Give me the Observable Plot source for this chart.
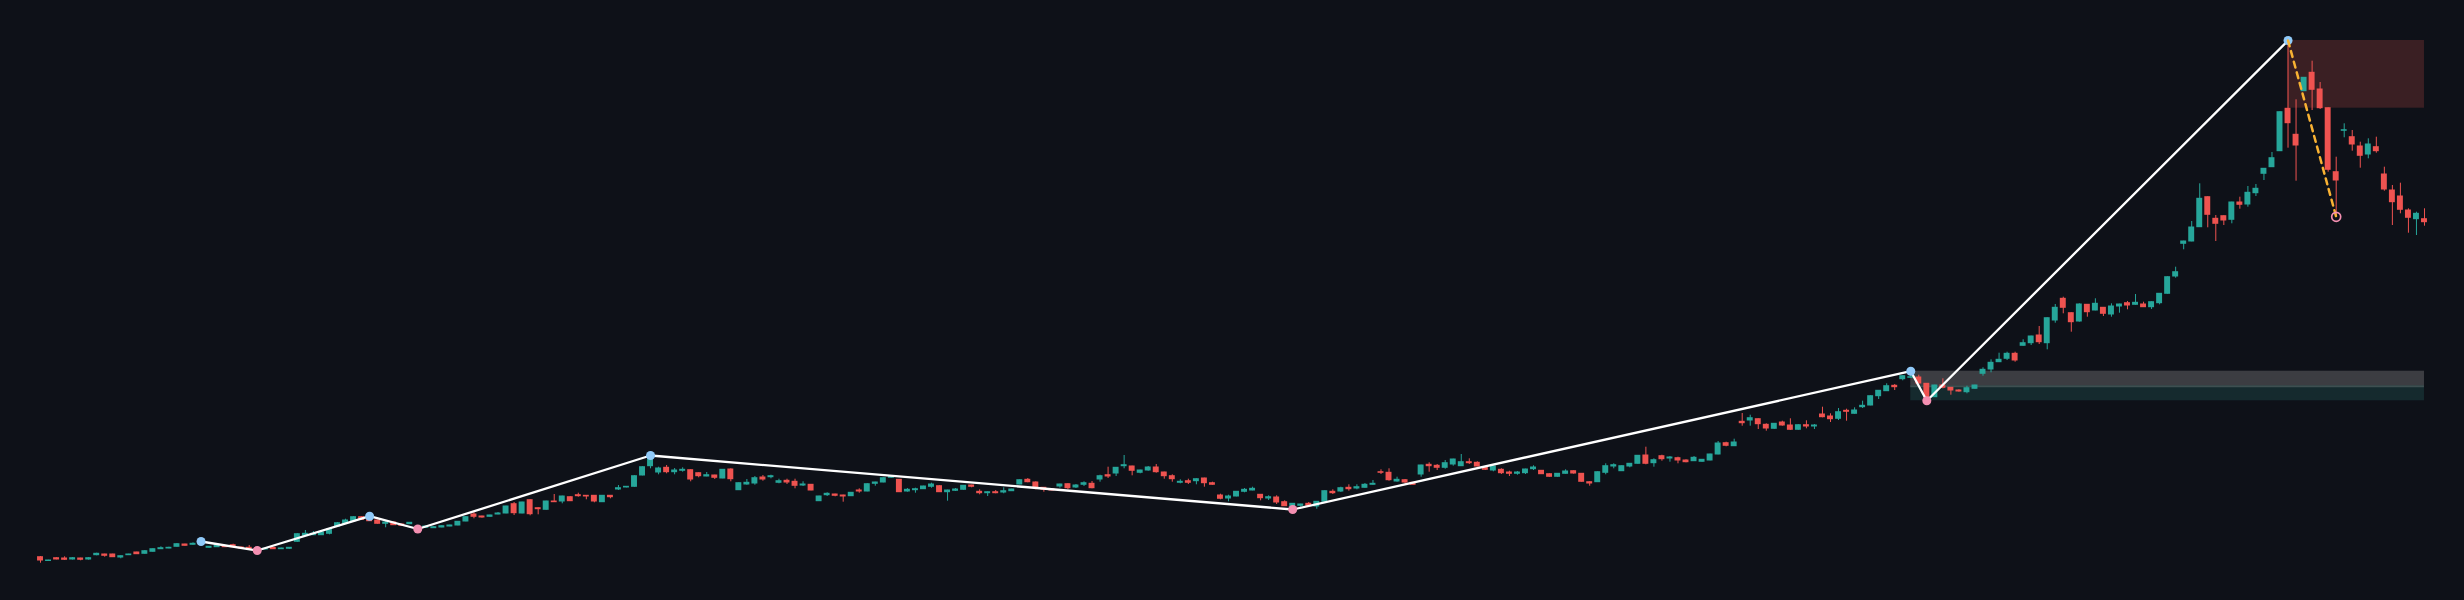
<!DOCTYPE html>
<html><head><meta charset="utf-8">
<script src="https://cdn.jsdelivr.net/npm/d3@7"></script>
<script src="https://cdn.jsdelivr.net/npm/@observablehq/plot@0.6"></script>
<style>html,body{margin:0;padding:0;background:#0e1118;overflow:hidden}#chart{width:2464px;height:600px}</style>
</head><body><div id="chart"></div>
<script>
// OHLC prices, one entry per candle (oldest first)
const open = [
43.3,39.5,42.3,42,41,42,41,45.3,46,46,43,45.3,48,46.7,48.7,51.3,52,53.7,56,55.7,
56.3,52.7,53.3,54.3,55.3,53,52.7,51.2,51,52.7,51.3,51.7,58.7,64.7,65.3,65.3,66.7,74,76.7,79.3,
83.3,82.3,80,76.7,78,76,76.3,73.3,72.7,72.3,73,74,75,79,86,84,83.7,86,87,96.3,
87,100.3,92.3,90.7,99,99,103.3,105.3,104.7,104.7,98.3,104.7,111,113,113.7,125,134.3,128,132.7,128.3,
129.7,130.3,127.3,124,125,122,131,110.3,116,117,123,123.3,117.7,119.7,118.7,115,115.7,99.3,105.3,106,
105,104.3,110,109,116.7,118,122.7,120.7,109,110.3,111.3,113.7,114.3,108.3,109.7,110.7,115,108.7,107.3,108.3,
108,109.3,116,120.7,118,112.7,111.3,114,116.3,113,115.7,116.7,121,125.3,127,134.3,134,127.7,130,133,
128,124.3,117.7,119.3,119.3,122,117.3,105,102,104,108.7,110,105.7,102,103,98.3,94,94.7,96.7,94,
98.7,108.7,109,112.7,112,112.7,115.7,128.3,127.7,119,120.3,117.7,126,135.7,134.7,132.7,136,134.3,138.3,137.7,
133.3,130,130.7,128,126.7,127.3,131.3,129.7,126.3,123.7,126.7,129.3,126.7,118.3,118.3,127.7,134,129.3,134,136.7,
145,137.3,144.3,142,142.3,140,139.3,138.7,140,146,157.3,154.3,178.7,180,181.3,175.7,171.7,178,175,170.7,
175.3,174,186,184,181.7,189.7,186.7,193.3,195,204.3,209.3,214.7,221.3,222.7,223,216.7,203.3,215,212.7,210,
208.3,211.7,226.7,231,238.3,241.7,246.7,254.7,257.3,265,257.3,280,301.7,287.3,279,295.7,290,292.7,286,294,
297.3,295.7,296,293.3,297.3,306.7,324,356.7,359,373.3,403.3,381.7,384.3,380.7,398,396,407.3,426.7,433.3,449.3,
491.7,465.7,509.3,527.7,511,492.3,428.3,469.7,463.3,454,446,453.3,426,410,404,390,381.3,381.3];
const high = [
44,40.2,42.7,43.7,43,42.3,43,47.3,46.3,46.3,44.7,46.3,48.3,50,51.7,53.7,53.3,57,56.3,57.7,
59,54,55.3,54.7,56.3,53.3,55,51.7,52,53,52.3,53,66.7,70,69,68.3,71.7,78,81.3,83.7,
83.7,84.3,80.3,79.3,78.3,76.3,78,73.7,74.3,73.7,74.7,75.3,79,83.7,88.7,84.3,85.3,88,94.3,98,
98.3,100.7,92.7,99.3,106,104.3,103.7,107.3,105,105,105,105,115,114,124.7,133.7,145,133.3,135,132,
132.7,130.7,127.7,128,125.3,131,131.7,117.7,121,124,125,125.3,121.3,121.3,121.3,118.7,116,104.3,107.7,106.3,
105.3,108,111.7,116.7,118.3,122.7,124.3,121,112,112.3,114.3,117.3,114.7,110.3,112,115,115.3,110.7,108.7,110,
112.7,111.3,120.7,122,118.7,113,111.7,116.3,116.7,116,118.7,119,125.3,133.3,133,145,134.3,130.3,134,136,
128.3,125.7,120.7,121.3,121.7,122.3,118.3,106.3,105.3,109,112,113.3,106,104.7,104.7,99.7,97,96.3,98,99,
109.7,110.7,113.3,115.7,115.7,117,120,130.7,131.7,123.3,121,118,135.3,137.7,136,140,141.3,146,141.7,138.7,
133.7,134.3,131.7,129.3,129,131.3,134.7,130,126.7,127,130.7,129.7,127,118.7,128.7,136.7,136.7,134.7,137,145,
153.3,141.7,145.3,144,143.3,140.7,144,141,146.3,159,158.3,161.3,187,185.3,181.7,176.7,177,179.3,181.7,175.7,
179.7,176,193.3,186.7,192,191.3,192.7,199.3,204.7,210,216.7,216,224.7,229.3,225.3,217,215.3,221.7,213,210.7,
214.3,215.3,232.7,240.7,247.3,248.3,248.3,260.7,264.3,274,282.7,296,303.3,287.7,296.7,296,301.7,293,296.7,296.3,
299,306,298.3,298.7,307,323.7,333.3,359.3,379,416.7,403.7,385,384.7,398.3,403.3,414,416,432,448,488.7,
560,500.7,523,539.3,518,492.7,443.3,476.7,470,458.3,461.7,463.3,433.3,415,417.3,391.7,388.3,391.7];
const low = [
37.3,39.3,40.7,40,40.5,39.7,40.3,44.7,43.3,43,41.7,45,46,46.3,48.3,51,51.7,53.3,54.3,55.3,
56,52.3,53,53,53,51.7,51,50,50.7,51,51,51.3,58.3,64,65,65,65.7,73.7,76.3,79,
80.3,79,76.3,72.7,75,74.3,76,71.5,72.3,72,72.7,73.7,74.7,78.7,81.7,82.3,83.3,85.7,86.7,85,
86.7,84.7,85.7,90.3,98,96.7,99,103.3,100.7,97.7,98,101.7,110,112.7,113.3,124.7,131.7,125.7,126.7,125.7,
128.3,118.7,122.7,123.7,121,121.7,118.7,110,115.3,115.3,119.3,121.7,116.7,116,111.7,114,109.7,99,104,103.7,
98.3,104,107.3,108.7,114.3,117.7,122.3,108,108.3,107.3,111,112.3,108,99.3,109,110.3,112.7,105.7,104,106.7,
106.7,109,115.7,117.7,110.7,108.3,109.7,112.3,110.7,112,114,111.7,118.3,122,124,131.7,124.7,126.7,129.3,127.3,
121.3,118.3,116.7,116,115.7,113.3,115.3,100.7,98.7,103.7,107.7,109.7,99.7,100,96,94,91,93.3,94.3,91.3,
98.3,106,108,109.3,110.7,112.3,115.3,126,119.3,118.3,116.7,115.3,123.3,128.3,130,131.3,134.3,134,136,133.7,
130,128.7,126,124,125.3,126,130,126,123.3,123.3,126.3,126.3,118.3,114.3,118,125.7,131.7,129,132.7,136.3,
135.7,133.3,139.3,138.3,136.7,137.7,139,138.3,139.7,145.7,153.7,154,174.3,174.3,171,169.3,171.3,174.3,170,170.3,
171.7,171,182.7,178,180,179.3,186.3,192,194.7,201,209,210,219.7,222.3,216.7,199.7,203,211.7,205.3,208.3,
206.7,211.3,224.3,227.7,238,240,238.3,254.3,255,256,250.7,277.3,286.7,268.3,278.3,283.3,289.7,284,283.3,287.3,
290.7,295.3,293,291,295.7,306.3,322.3,350.7,358.7,373,372.7,359,375,376.7,391.3,393.3,404,420,433,449,
452.3,419.3,509,490,491,428.3,383.7,462.7,449.3,432.3,441.7,447.3,409.3,375,386.7,367.3,365,374.3];
const close = [
40,40,41,40.7,42.3,40.7,42.3,46.7,44.7,43.3,44.3,46,46.3,49.3,51.3,52.3,52.7,56.3,54.7,56.7,
58.3,53.7,54.7,53.3,53.3,52,51.3,50.7,51.7,51.3,52,52.7,66.3,66.7,66.7,68,71.3,77.3,80,83.3,
80.7,79.3,76.7,78,75.3,74.7,77.7,72,74,73.3,74.3,75,78.7,83.3,83.7,83,85,87,94,87.3,
98,86.3,91.3,99,98.3,104,99.3,104.3,104,99,104.7,103.3,112.3,113.7,124.3,133.3,143.3,132,128.3,130,
130.7,121,124.3,125.3,122.7,130.7,121.3,117.3,117.7,122.3,121,124.3,119.3,118,114.7,116,110,104,106.7,104.7,
104,107.7,109,116.3,118,122.3,124,108.3,110.7,111.3,114,116,108.3,110,111,114.7,113.7,107.3,108.3,107.3,
109.3,111,120.3,118.3,113.3,110.7,110,116,112.3,115,117.3,112.3,124.3,124,132.7,135.3,129.7,130,133,128.3,
124.3,121.3,118.7,117.7,121.3,117.3,115.7,101.7,104,108.7,110.7,111.7,102.3,103.3,98,94.3,96.7,96,94.7,98.7,
109.3,107.3,112.3,111.3,113.3,115.7,116.7,127.7,120.3,120.7,118,115.7,135,134.3,132.7,137.3,141,138.3,137.3,134,
130.7,134,127.3,126.7,128,131,133,126.3,123.7,126.7,129,127,118.7,117,128.3,134.3,135.3,134.3,136.7,144.7,
136.7,140.3,141.3,143,140,138.3,142.7,140.7,146,157,154.7,158,177.3,182.3,176.3,172,176.7,175,170.7,175.3,
174,175,183.3,181.3,188.3,188.7,190,194.7,204.3,209.7,214.3,213.3,224.3,223.3,217,203.3,215,212.7,210,209,
212.3,215,230.7,237.7,240.7,246.7,240,257.3,264,258.3,282.3,292.7,292.7,278.3,296,288.3,296.7,286.7,294,296,
295,297.7,293.3,298.3,306.7,323.3,328.3,359,373,401.7,385.7,376.7,380,398,395.7,407.7,411.7,431.7,442.3,488.3,
477.3,455,522.7,510.7,492.3,430.7,420,470.3,456,444.7,456,449.3,411,398.3,390.7,382.7,386.7,378.3];

// Zigzag swing pivots
const pivotIndex = [20, 27, 41, 47, 76, 156, 233, 235, 280];
const pivotPrice = [59, 50, 84.3, 71.5, 145, 91, 229.3, 199.7, 560];
const pivotKind  = ["high","low","high","low","high","low","high","low","high"];

// Retracement from last swing high
const retraceIndex = [280, 286];
const retracePrice = [560, 383.7];

// Zones (start index, end index, top price, bottom price)
const zoneStart  = [233, 233, 280];
const zoneEnd    = [297, 297, 297];
const zoneTop    = [229.3, 214.3, 560];
const zoneBottom = [214.3, 199.7, 492.3];
const zoneFill   = ["#3c3d42", "#152a2e", "#3a1f23"];

const UP = "#26a69a", DOWN = "#ef5350";

const candles = open.map((o, i) => ({i, open: o, high: high[i], low: low[i], close: close[i], color: close[i] >= o ? UP : DOWN}));
const pivots = pivotIndex.map((i, k) => ({i, price: pivotPrice[k], color: pivotKind[k] === "high" ? "#90caf9" : "#f48fb1"}));
const retrace = retraceIndex.map((i, k) => ({i, price: retracePrice[k]}));
const zones = zoneStart.map((s, k) => ({start: s, end: zoneEnd[k], top: zoneTop[k], bottom: zoneBottom[k], fill: zoneFill[k]}));
const divider = [{start: zoneStart[0], end: zoneEnd[0], price: zoneTop[1]}];
const last = open.length - 1;

const chart = Plot.plot({
  width: 2464, height: 600,
  marginTop: 0, marginBottom: 0, marginLeft: 0, marginRight: 0,
  style: {background: "#0e1118"},
  x: {type: "linear", domain: [-0.5, last + 0.5], range: [36, 2428], axis: null},
  y: {type: "linear", domain: [0, 600], range: [600, 0], axis: null},
  color: {type: "identity"},
  marks: [
    Plot.rect(zones, {x1: "start", x2: "end", y1: "bottom", y2: "top", fill: "fill"}),
    Plot.ruleY(divider, {x1: "start", x2: "end", y: "price", stroke: "#3e4f51", strokeWidth: 2}),
    Plot.ruleX(candles, {x: "i", y1: "low", y2: "high", stroke: "color", strokeWidth: 1}),
    Plot.rect(candles, {x1: d => d.i - 0.37, x2: d => d.i + 0.37, y1: "open", y2: "close", fill: "color", insetTop: -0.5, insetBottom: -0.5}),
    Plot.line(pivots, {x: "i", y: "price", stroke: "#ffffff", strokeWidth: 2.3}),
    Plot.dot(pivots, {x: "i", y: "price", r: 4.5, fill: "color"}),
    Plot.line(retrace, {x: "i", y: "price", stroke: "#f9b233", strokeWidth: 2.5, strokeDasharray: "6,5"}),
    Plot.dot(retrace.slice(1), {x: "i", y: "price", r: 4.5, fill: "none", stroke: "#f48fb1", strokeWidth: 1.7})
  ]
});
document.getElementById("chart").append(chart);
</script>
</body></html>
